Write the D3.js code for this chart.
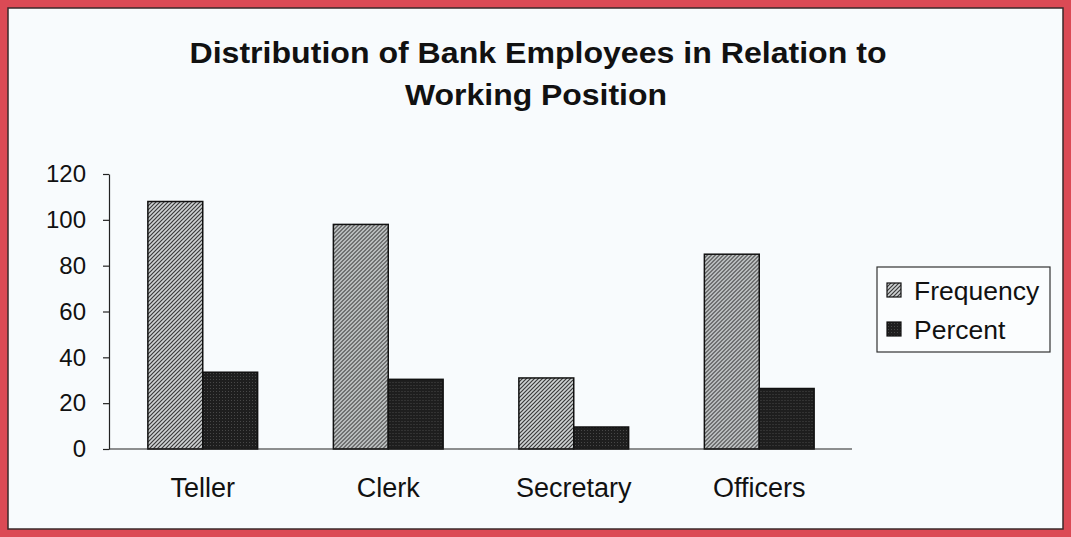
<!DOCTYPE html>
<html>
<head>
<meta charset="utf-8">
<script src="https://cdn.jsdelivr.net/npm/d3@7"></script>
<style>
  body { margin: 0; background: #fff; }
  svg { display: block; }
</style>
</head>
<body>
<div id="chart"></div>
<script>
// width and height
var w = 1071;
var h = 537;

var categories = ["Teller", "Clerk", "Secretary", "Officers"];
var seriesNames = ["Frequency", "Percent"];
var frequency = [108, 98, 31, 85];
var percent = [33.5, 30.4, 9.6, 26.4];
var yTicks = [0, 20, 40, 60, 80, 100, 120];

var rows = categories.map(function(c, i) {
  return { cat: c, values: [frequency[i], percent[i]] };
});

var font = "Liberation Sans, Arial, sans-serif";

var svg = d3.select("#chart")
  .append("svg")
  .attr("width", w)
  .attr("height", h);

// patterns
var defs = svg.append("defs");
var p1 = defs.append("pattern")
  .attr("id", "hatch")
  .attr("patternUnits", "userSpaceOnUse")
  .attr("width", 4)
  .attr("height", 4);
p1.append("rect").attr("width", 4).attr("height", 4).attr("fill", "#cfd3d4");
p1.append("path")
  .attr("d", "M-1,1 l2,-2 M0,4 l4,-4 M3,5 l2,-2")
  .attr("stroke", "#3a3a3a")
  .attr("stroke-width", 1.2);

var p2 = defs.append("pattern")
  .attr("id", "dark")
  .attr("patternUnits", "userSpaceOnUse")
  .attr("width", 3)
  .attr("height", 3);
p2.append("rect").attr("width", 3).attr("height", 3).attr("fill", "#1e1e1e");
p2.append("rect").attr("x", 1).attr("y", 1).attr("width", 1).attr("height", 1).attr("fill", "#474747");

var fills = ["url(#hatch)", "url(#dark)"];

// frame
svg.append("rect")
  .attr("x", 0).attr("y", 0)
  .attr("width", w).attr("height", h)
  .attr("fill", "#db4a55");
svg.append("rect")
  .attr("x", 8).attr("y", 8)
  .attr("width", w - 16).attr("height", h - 16)
  .attr("fill", "#f8fbfd")
  .attr("stroke", "#3a2a2a")
  .attr("stroke-width", 1.5);

// title
var title = svg.append("text")
  .attr("text-anchor", "middle")
  .attr("font-family", font)
  .attr("font-weight", "bold")
  .attr("font-size", "29px")
  .attr("fill", "#111");
title.append("tspan").attr("x", 538).attr("y", 63)
  .attr("textLength", 697).attr("lengthAdjust", "spacingAndGlyphs")
  .text("Distribution of Bank Employees in Relation to");
title.append("tspan").attr("x", 536).attr("y", 105)
  .attr("textLength", 262).attr("lengthAdjust", "spacingAndGlyphs")
  .text("Working Position");

// scales
var x0 = d3.scaleBand()
  .domain(categories)
  .range([110, 852]);

var x1 = d3.scaleBand()
  .domain(seriesNames)
  .range([0, x0.bandwidth()])
  .paddingOuter(0.69)
  .paddingInner(0);

var y = d3.scaleLinear()
  .domain([0, 120])
  .range([449, 174]);

// y axis
var yAxis = svg.append("g")
  .attr("transform", "translate(109,0)")
  .call(d3.axisLeft(y).tickValues(yTicks).tickSize(6).tickSizeOuter(0).tickPadding(17));
yAxis.select(".domain").attr("stroke", "#222").attr("stroke-width", 1.2);
yAxis.selectAll(".tick line").attr("stroke", "#222").attr("stroke-width", 1.2);
yAxis.selectAll("text")
  .attr("font-family", font)
  .attr("font-size", "24px")
  .attr("fill", "#111");

// bars
var groups = svg.selectAll("g.cat")
  .data(rows)
  .enter()
  .append("g")
  .attr("class", "cat")
  .attr("transform", function(d) {
    return "translate(" + x0(d.cat) + ",0)";
  });

groups.selectAll("rect")
  .data(function(d) {
    return d.values.map(function(v, i) { return { name: seriesNames[i], v: v, i: i }; });
  })
  .enter()
  .append("rect")
  .attr("x", function(d) { return x1(d.name); })
  .attr("y", function(d) { return y(d.v); })
  .attr("width", x1.bandwidth())
  .attr("height", function(d) { return y(0) - y(d.v); })
  .attr("fill", function(d) { return fills[d.i]; })
  .attr("stroke", "#111")
  .attr("stroke-width", 1.5);

// x baseline
svg.append("line")
  .attr("x1", 109).attr("x2", 852)
  .attr("y1", y(0)).attr("y2", y(0))
  .attr("stroke", "#222")
  .attr("stroke-width", 1.2);

// category labels
svg.selectAll("text.cat")
  .data(categories)
  .enter()
  .append("text")
  .attr("class", "cat")
  .attr("x", function(d) { return x0(d) + x0.bandwidth() / 2; })
  .attr("y", 497)
  .attr("text-anchor", "middle")
  .attr("font-family", font)
  .attr("font-size", "27px")
  .attr("fill", "#111")
  .text(function(d) { return d; });

// legend
var lg = svg.append("g").attr("transform", "translate(877,267)");
lg.append("rect")
  .attr("width", 173).attr("height", 85)
  .attr("fill", "#fbfdfe")
  .attr("stroke", "#333")
  .attr("stroke-width", 1.2);
var items = lg.selectAll("g.item")
  .data(seriesNames)
  .enter()
  .append("g")
  .attr("class", "item")
  .attr("transform", function(d, i) { return "translate(10," + (16 + i * 39) + ")"; });
items.append("rect")
  .attr("width", 14).attr("height", 14)
  .attr("fill", function(d, i) { return fills[i]; })
  .attr("stroke", "#111")
  .attr("stroke-width", 1.2);
items.append("text")
  .attr("x", 27)
  .attr("y", 17)
  .attr("font-family", font)
  .attr("font-size", "26.5px")
  .attr("fill", "#111")
  .text(function(d) { return d; });
</script>
</body>
</html>
